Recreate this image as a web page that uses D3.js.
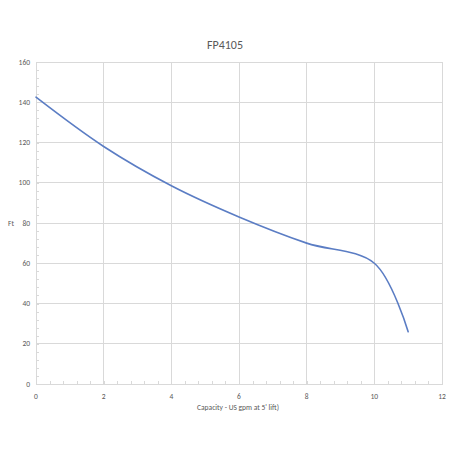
<!DOCTYPE html>
<html><head><meta charset="utf-8">
<script src="https://cdn.jsdelivr.net/npm/d3@7"></script>
<style>body{margin:0;background:#fff;}svg{display:block;font-family:Calibri,Carlito,"Open Sans","Liberation Sans",sans-serif;}</style>
</head><body><svg id="c" width="450" height="450"></svg>
<script>
const capacity = [0, 2, 4, 6, 8, 10, 11];
const head = [142.5, 118, 98.5, 83, 70, 60, 26];
const xTicks = [0, 2, 4, 6, 8, 10, 12];
const yTicks = [0, 20, 40, 60, 80, 100, 120, 140, 160];
const title = "FP4105";
const xLabel = "Capacity - US gpm at 5' lift)";
const yLabel = "Ft";

const svg = d3.select("#c");
const L = 36, R = 442, T = 62, B = 384;
const x = d3.scaleLinear().domain([0, 12]).range([L, R]);
const y = d3.scaleLinear().domain([0, 160]).range([B, T]);
const grid = "#d9d9d9", txt = "#595959";

svg.append("rect").attr("width",450).attr("height",450).attr("fill","#fff");
// gridlines
svg.append("g").selectAll("line").data(yTicks).join("line")
  .attr("x1",L).attr("x2",R).attr("y1",d=>y(d)).attr("y2",d=>y(d))
  .attr("stroke",grid).attr("stroke-width",1).attr("shape-rendering","crispEdges");
svg.append("g").selectAll("line").data(xTicks).join("line")
  .attr("y1",T).attr("y2",B).attr("x1",d=>x(d)).attr("x2",d=>x(d))
  .attr("stroke",grid).attr("stroke-width",1).attr("shape-rendering","crispEdges");

// axes with minor ticks inside
const xAxis = d3.axisTop(x).tickValues(d3.range(0, 12.01, 0.4)).tickSize(3).tickFormat("");
const gx = svg.append("g").attr("transform",`translate(0,${B})`).call(xAxis);
gx.selectAll("path,line").attr("stroke","#d9d9d9").attr("shape-rendering","crispEdges");
const yAxis = d3.axisRight(y).tickValues(d3.range(0, 160.01, 4)).tickSize(3).tickFormat("");
const gy = svg.append("g").attr("transform",`translate(${L},0)`).call(yAxis);
gy.selectAll("path,line").attr("stroke","#d9d9d9").attr("shape-rendering","crispEdges");

// tick labels
svg.append("g").selectAll("text").data(xTicks).join("text")
  .attr("x",d=>x(d)).attr("y",B+15).attr("text-anchor","middle")
  .attr("font-size",7.5).attr("fill",txt).text(d=>d);
svg.append("g").selectAll("text").data(yTicks).join("text")
  .attr("x",L-6).attr("y",d=>y(d)+2.5).attr("text-anchor","end")
  .attr("font-size",7.5).attr("fill",txt).text(d=>d);

// titles
svg.append("text").attr("x",225).attr("y",49).attr("text-anchor","middle")
  .attr("font-size",12).attr("fill",txt).text(title);
svg.append("text").attr("x",238).attr("y",410).attr("text-anchor","middle")
  .attr("font-size",7.5).attr("fill",txt).text(xLabel);
svg.append("text").attr("x",11).attr("y",226).attr("text-anchor","middle")
  .attr("font-size",7.5).attr("fill",txt).text(yLabel);

// curve
const line = d3.line().x((d,i)=>x(capacity[i])).y(d=>y(d)).curve(d3.curveCatmullRom.alpha(0.5));
svg.append("path").datum(head).attr("d",line).attr("fill","none")
  .attr("stroke","#5b7dc4").attr("stroke-width",1.6).attr("stroke-linecap","round");
</script></body></html>
